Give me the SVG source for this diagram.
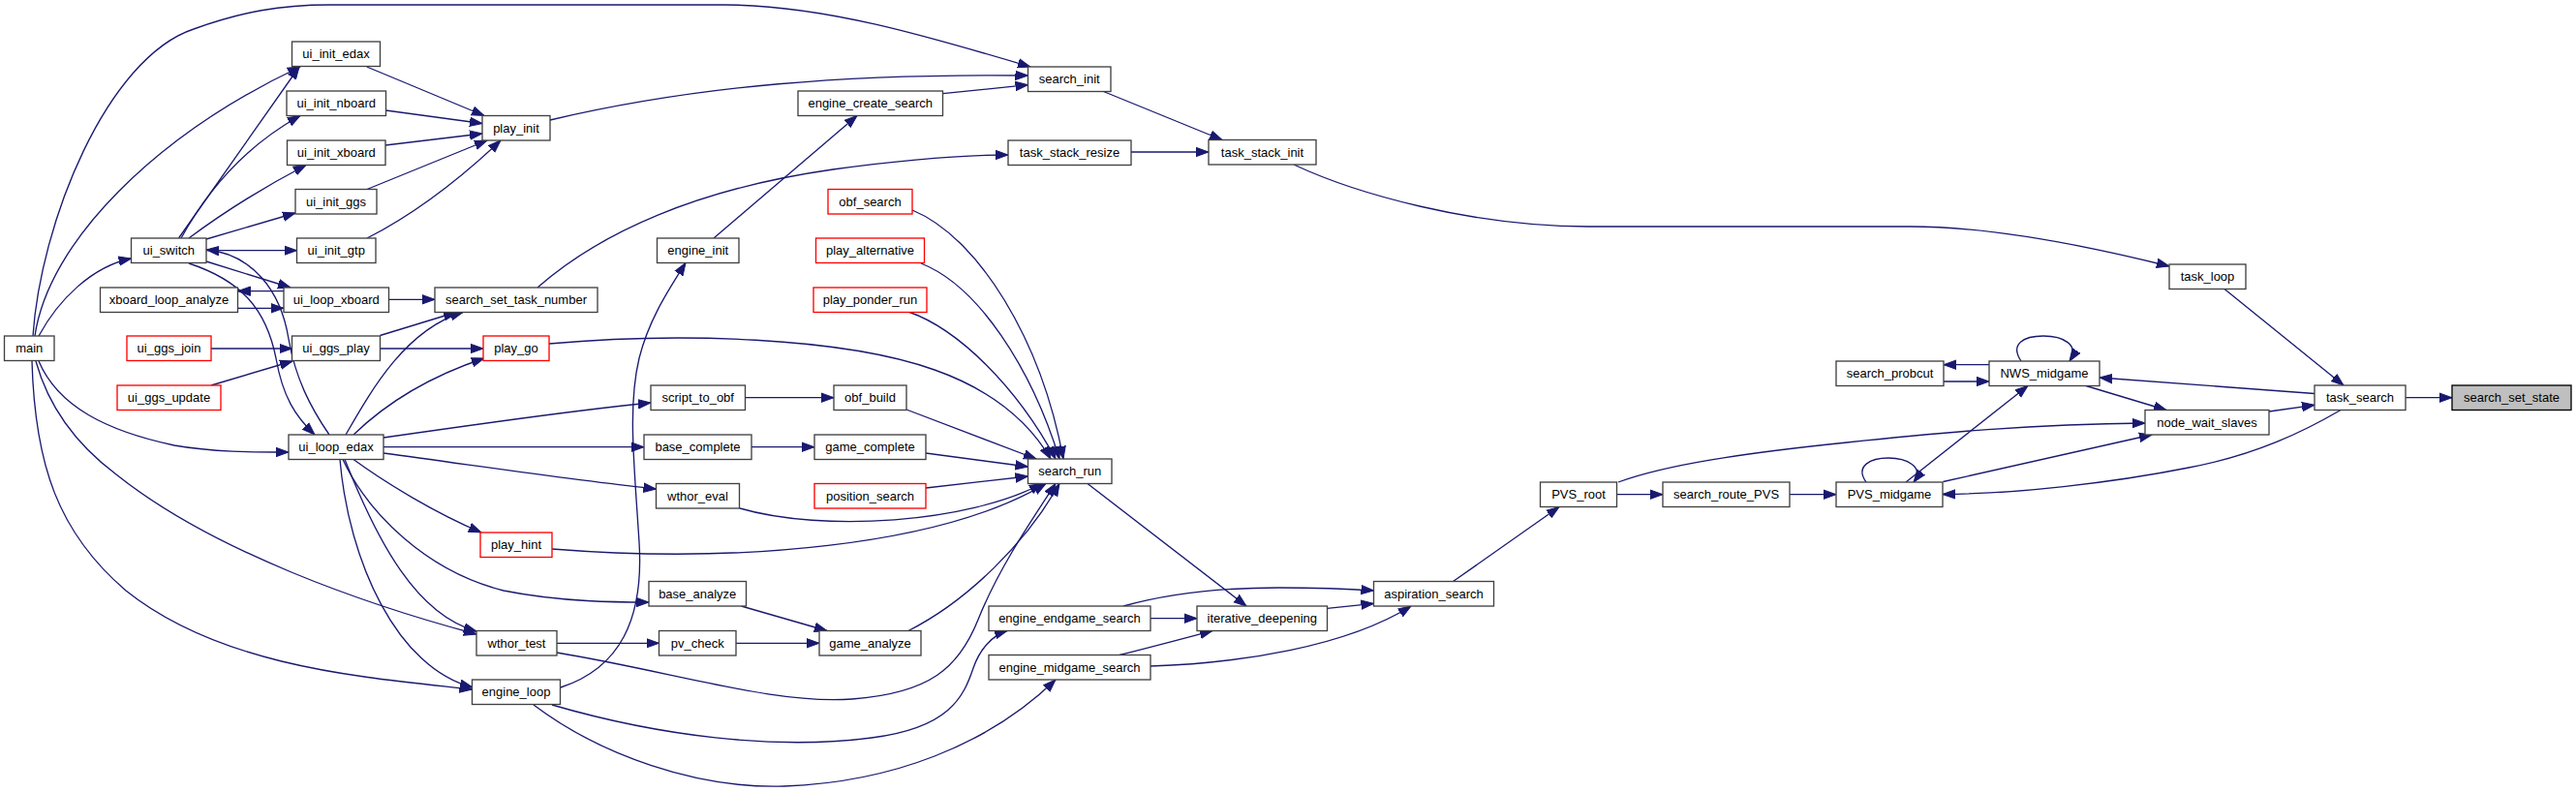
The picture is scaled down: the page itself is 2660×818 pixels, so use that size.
<svg xmlns="http://www.w3.org/2000/svg" width="2660" height="818" viewBox="0 0 2660 818">
<style>
rect{fill:#fff;stroke:#404040;stroke-width:1.33}
rect.r{stroke:#ff0000}
rect.s{fill:#bfbfbf;stroke:#000}
text{font-family:"Liberation Sans",Arial,Helvetica,sans-serif;font-size:13px;fill:#000;text-anchor:middle}
#edges path{fill:none;stroke:#191970;stroke-width:1.33;marker-end:url(#a)}
</style>
<defs>
<marker id="a" markerUnits="userSpaceOnUse" markerWidth="14" markerHeight="11" refX="13" refY="5.5" orient="auto">
<path d="M0,0.8 L13,5.5 L0,10.2 z" fill="#191970" stroke="#191970" stroke-width="1"/>
</marker>
</defs>
<rect x="0" y="0" width="2660" height="818" style="fill:#fff;stroke:none"/>
<g id="edges">
<path d="M2484,410.7 L2532,410.7"/>
<path d="M2297,298.5 L2420,398"/>
<path d="M2343,425 L2390,418.3"/>
<path d="M2390,406.5 C2320,401 2230,395 2168,390"/>
<path d="M2417,423.5 C2380,445 2330,470 2260,483 C2180,499 2080,510 2006,510.5"/>
<path d="M2154,398.5 L2237,423.5"/>
<path d="M2006.5,497.5 L2222,449"/>
<path d="M1968,498 L2094,398.5"/>
<path d="M2087,373 C2075,355 2090,347 2110,347 C2130,347 2148,356 2137,373"/>
<path d="M1927,498 C1915,481 1932,473 1950,473 C1968,473 1988,482 1976,498"/>
<path d="M2054,376.7 L2007,376.7"/>
<path d="M2007,394 L2054,394"/>
<path d="M1671,498 C1720,480 1800,468 1907,457 C2000,447 2100,438 2215,437"/>
<path d="M1669.5,510.7 L1717,510.7"/>
<path d="M1848,510.7 L1896,510.7"/>
<path d="M1500.5,600.5 L1610,523.5"/>
<path d="M1370.5,628.3 L1418.5,623.3"/>
<path d="M1160,626 C1210,612 1260,607 1320,607 C1360,607 1390,608 1418.5,610"/>
<path d="M1188,688 C1280,685 1390,668 1457,626"/>
<path d="M1188,638.7 L1236,638.7"/>
<path d="M1156,676.5 C1190,668 1220,660 1252,651.5"/>
<path d="M1123,499.5 L1287,626"/>
<path d="M1336,170 C1400,200 1520,234 1640,234 L1973,234 C2060,234 2160,255 2240,275"/>
<path d="M1139.5,94.5 L1262,144.5"/>
<path d="M1168,157 L1248,157"/>
<path d="M34,347 C42,230 110,60 200,30 C250,12 290,5 340,5 L748,5 C850,5 960,38 1064,69"/>
<path d="M568,124 C720,88 880,76 1061.5,78"/>
<path d="M973.5,96.7 L1061.5,87.7"/>
<path d="M737,246 L885,119.5"/>
<path d="M555,297 C620,240 720,195 860,175 C940,164 1000,160 1041,160"/>
<path d="M378.8,69 L500,119.5"/>
<path d="M398.5,114 L498,127.5"/>
<path d="M398,150 L498,138"/>
<path d="M379,195.5 L503,145"/>
<path d="M379,246 C430,220 480,180 517,145"/>
<path d="M36,347 C50,250 160,140 310,69"/>
<path d="M40,347 C60,310 95,275 135.5,267"/>
<path d="M184.5,246 L309,69"/>
<path d="M187,246 C215,195 255,150 310,119.5"/>
<path d="M195,246 Q250,205 316,170.5"/>
<path d="M213,247 L305,220"/>
<path d="M213,258.7 L306.5,258.7"/>
<path d="M213,270 L300,297"/>
<path d="M293,300.7 L245.5,300.7"/>
<path d="M245.5,318.3 L293,318.3"/>
<path d="M401.5,309.3 L449,309.3"/>
<path d="M392.5,346.5 L471,322.5"/>
<path d="M357,449 C385,400 420,340 478,322.5"/>
<path d="M218,360 L301.5,360"/>
<path d="M218,398 L302,373"/>
<path d="M392.5,360 L499,360"/>
<path d="M365,449 C395,420 440,390 500,370"/>
<path d="M567,355 C700,343 870,348 965,382 C1030,405 1065,440 1085,474"/>
<path d="M942,217 C1010,245 1075,350 1098,474"/>
<path d="M951,272 C1010,295 1065,380 1094,474"/>
<path d="M938,322 C990,340 1050,400 1090,474"/>
<path d="M936,423 L1070,474"/>
<path d="M956,468 L1061.5,482"/>
<path d="M956,504 L1061.5,492"/>
<path d="M764,525 C850,550 1000,540 1076,499.5"/>
<path d="M570,567 C760,582 970,565 1080,499.5"/>
<path d="M938,651.5 C1000,620 1060,560 1094,499.5"/>
<path d="M575,674 C700,695 800,728 880,722 C960,716 990,690 1010,640 C1030,590 1060,545 1090,499.5"/>
<path d="M776,461.7 L841,461.7"/>
<path d="M769.5,410.7 L861,410.7"/>
<path d="M765.5,626 L854,651.5"/>
<path d="M760,664.3 L846,664.3"/>
<path d="M575,664.3 L680.5,664.3"/>
<path d="M396,452 C500,437 600,423 672,416"/>
<path d="M396,461.7 L665,461.7"/>
<path d="M396,468 C500,482 600,497 677.5,505"/>
<path d="M365,474.5 C400,500 450,530 497,550"/>
<path d="M354,474.5 C380,530 440,590 520,610 C580,622 640,622 670,622"/>
<path d="M356,474.5 C390,560 430,635 492,652"/>
<path d="M351,474.5 C360,580 410,690 488,710"/>
<path d="M579,710 C640,690 665,640 660,560 C655,480 648,420 660,370 C670,330 690,300 708,271.5"/>
<path d="M570,728 C680,760 800,775 900,762 C980,752 995,720 1005,690 C1012,670 1025,656 1040,651.5"/>
<path d="M551,728 C620,780 720,815 810,812 C920,808 1020,770 1090,702"/>
<path d="M40,373 C60,420 110,445 180,460 C220,467 260,467 298,467"/>
<path d="M37,373 C50,420 80,460 120,490 C220,570 380,625 492,655"/>
<path d="M33,373 C36,480 60,550 130,610 C230,690 380,700 487.5,712"/>
<path d="M195,272 C250,290 275,320 285,370 C292,410 305,430 325,449"/>
<path d="M340,449 C320,420 305,390 298,350 C290,300 260,262 213,258"/>
</g>
<g id="main"><rect x="4.5" y="347" width="51.5" height="25.5"/><text x="30.25" y="364.25">main</text></g>
<g id="ui_init_edax"><rect x="301.5" y="43" width="91" height="25.5"/><text x="347" y="60.25">ui_init_edax</text></g>
<g id="ui_init_nboard"><rect x="296" y="94" width="102.5" height="25.5"/><text x="347.25" y="111.25">ui_init_nboard</text></g>
<g id="ui_init_xboard"><rect x="296.5" y="145" width="101.5" height="25.5"/><text x="347.25" y="162.25">ui_init_xboard</text></g>
<g id="ui_init_ggs"><rect x="305" y="195.5" width="84" height="25.5"/><text x="347" y="212.75">ui_init_ggs</text></g>
<g id="ui_init_gtp"><rect x="306.5" y="246" width="81.5" height="25.5"/><text x="347.25" y="263.25">ui_init_gtp</text></g>
<g id="play_init"><rect x="498" y="119.5" width="70" height="25.5"/><text x="533" y="136.75">play_init</text></g>
<g id="ui_switch"><rect x="135.5" y="246" width="77.5" height="25.5"/><text x="174.25" y="263.25">ui_switch</text></g>
<g id="xboard_loop_analyze"><rect x="103.5" y="297" width="142" height="25.5"/><text x="174.5" y="314.25">xboard_loop_analyze</text></g>
<g id="ui_loop_xboard"><rect x="293" y="297" width="108.5" height="25.5"/><text x="347.25" y="314.25">ui_loop_xboard</text></g>
<g id="search_set_task_number"><rect x="449" y="297" width="168" height="25.5"/><text x="533" y="314.25">search_set_task_number</text></g>
<g id="ui_ggs_join"><rect class="r" x="131" y="347" width="87" height="25.5"/><text x="174.5" y="364.25">ui_ggs_join</text></g>
<g id="ui_ggs_play"><rect x="301.5" y="347" width="91" height="25.5"/><text x="347" y="364.25">ui_ggs_play</text></g>
<g id="play_go"><rect class="r" x="499" y="347" width="68" height="25.5"/><text x="533" y="364.25">play_go</text></g>
<g id="ui_ggs_update"><rect class="r" x="121" y="398" width="107" height="25.5"/><text x="174.5" y="415.25">ui_ggs_update</text></g>
<g id="ui_loop_edax"><rect x="298" y="449" width="98" height="25.5"/><text x="347" y="466.25">ui_loop_edax</text></g>
<g id="play_hint"><rect class="r" x="496" y="550" width="74" height="25.5"/><text x="533" y="567.25">play_hint</text></g>
<g id="wthor_test"><rect x="492" y="651.5" width="83" height="25.5"/><text x="533.5" y="668.75">wthor_test</text></g>
<g id="engine_loop"><rect x="487.5" y="702" width="91" height="25.5"/><text x="533" y="719.25">engine_loop</text></g>
<g id="search_init"><rect x="1061.5" y="69" width="85.5" height="25.5"/><text x="1104.25" y="86.25">search_init</text></g>
<g id="engine_create_search"><rect x="824" y="94" width="149.5" height="25.5"/><text x="898.75" y="111.25">engine_create_search</text></g>
<g id="task_stack_resize"><rect x="1041" y="145" width="127" height="25.5"/><text x="1104.5" y="162.25">task_stack_resize</text></g>
<g id="obf_search"><rect class="r" x="855" y="195.5" width="87" height="25.5"/><text x="898.5" y="212.75">obf_search</text></g>
<g id="engine_init"><rect x="678.5" y="246" width="84.5" height="25.5"/><text x="720.75" y="263.25">engine_init</text></g>
<g id="play_alternative"><rect class="r" x="842.5" y="246" width="112" height="25.5"/><text x="898.5" y="263.25">play_alternative</text></g>
<g id="play_ponder_run"><rect class="r" x="840" y="297" width="117" height="25.5"/><text x="898.5" y="314.25">play_ponder_run</text></g>
<g id="script_to_obf"><rect x="672" y="398" width="97.5" height="25.5"/><text x="720.75" y="415.25">script_to_obf</text></g>
<g id="obf_build"><rect x="861" y="398" width="75" height="25.5"/><text x="898.5" y="415.25">obf_build</text></g>
<g id="base_complete"><rect x="665" y="449" width="111" height="25.5"/><text x="720.5" y="466.25">base_complete</text></g>
<g id="game_complete"><rect x="841" y="449" width="115" height="25.5"/><text x="898.5" y="466.25">game_complete</text></g>
<g id="search_run"><rect x="1061.5" y="474" width="86.5" height="25.5"/><text x="1104.75" y="491.25">search_run</text></g>
<g id="wthor_eval"><rect x="677.5" y="499.5" width="86" height="25.5"/><text x="720.5" y="516.75">wthor_eval</text></g>
<g id="position_search"><rect class="r" x="841" y="499.5" width="115" height="25.5"/><text x="898.5" y="516.75">position_search</text></g>
<g id="base_analyze"><rect x="670" y="600.5" width="100.5" height="25.5"/><text x="720.25" y="617.75">base_analyze</text></g>
<g id="game_analyze"><rect x="846" y="651.5" width="105" height="25.5"/><text x="898.5" y="668.75">game_analyze</text></g>
<g id="pv_check"><rect x="680.5" y="651.5" width="79.5" height="25.5"/><text x="720.25" y="668.75">pv_check</text></g>
<g id="engine_endgame_search"><rect x="1021" y="626" width="167" height="25.5"/><text x="1104.5" y="643.25">engine_endgame_search</text></g>
<g id="engine_midgame_search"><rect x="1021" y="676.5" width="167" height="25.5"/><text x="1104.5" y="693.75">engine_midgame_search</text></g>
<g id="iterative_deepening"><rect x="1236" y="626" width="134.5" height="25.5"/><text x="1303.25" y="643.25">iterative_deepening</text></g>
<g id="aspiration_search"><rect x="1418.5" y="600.5" width="124" height="25.5"/><text x="1480.5" y="617.75">aspiration_search</text></g>
<g id="PVS_root"><rect x="1590.5" y="498" width="79" height="25.5"/><text x="1630" y="515.25">PVS_root</text></g>
<g id="search_route_PVS"><rect x="1717" y="498" width="131" height="25.5"/><text x="1782.5" y="515.25">search_route_PVS</text></g>
<g id="PVS_midgame"><rect x="1896" y="498" width="110" height="25.5"/><text x="1951" y="515.25">PVS_midgame</text></g>
<g id="search_probcut"><rect x="1896" y="373" width="111" height="25.5"/><text x="1951.5" y="390.25">search_probcut</text></g>
<g id="NWS_midgame"><rect x="2054" y="373" width="114" height="25.5"/><text x="2111" y="390.25">NWS_midgame</text></g>
<g id="node_wait_slaves"><rect x="2215" y="423.5" width="128" height="25.5"/><text x="2279" y="440.75">node_wait_slaves</text></g>
<g id="task_loop"><rect x="2240" y="273" width="79" height="25.5"/><text x="2279.5" y="290.25">task_loop</text></g>
<g id="task_stack_init"><rect x="1248" y="144.5" width="111" height="25.5"/><text x="1303.5" y="161.75">task_stack_init</text></g>
<g id="task_search"><rect x="2390" y="398" width="94" height="25.5"/><text x="2437" y="415.25">task_search</text></g>
<g id="search_set_state"><rect class="s" x="2532" y="398" width="123" height="25.5"/><text x="2593.5" y="415.25">search_set_state</text></g>
</svg>
